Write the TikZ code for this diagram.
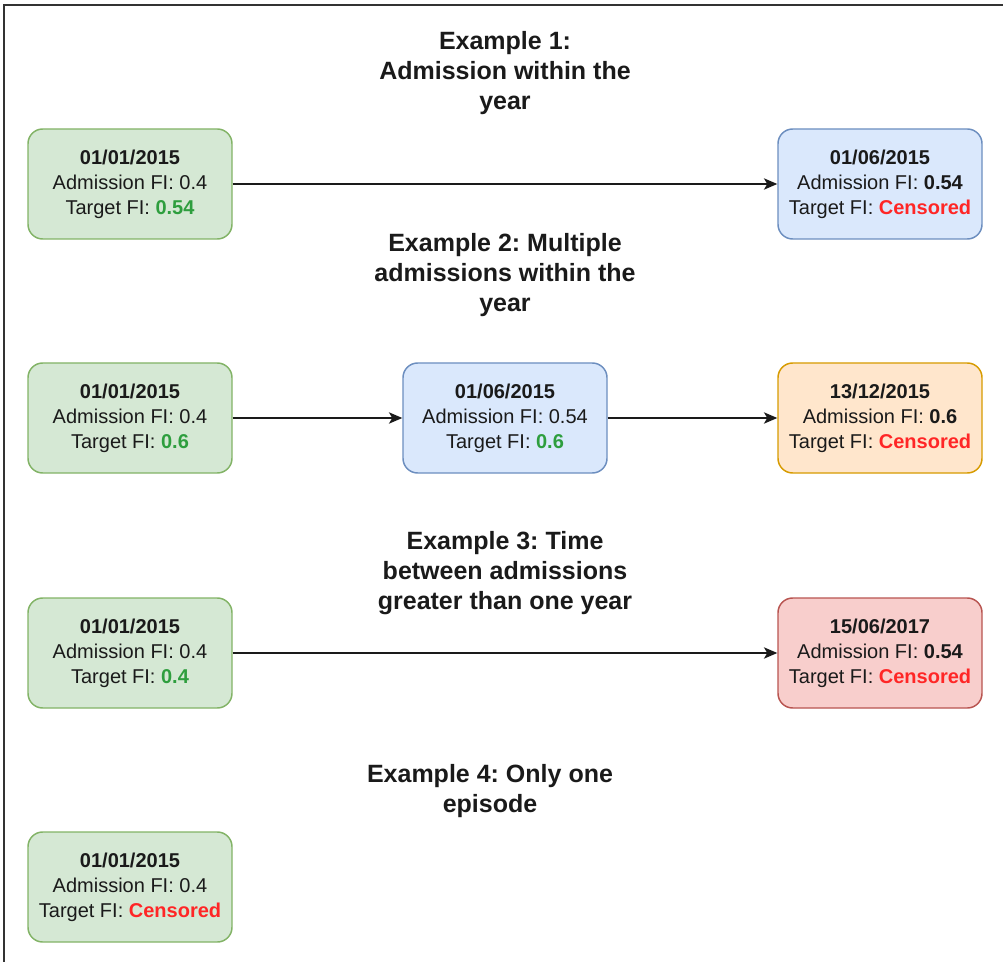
\documentclass[tikz,border=0pt]{standalone}
\usepackage{fontspec}
\setmainfont{Liberation Sans}
\usetikzlibrary{arrows.meta}
\definecolor{ink}{HTML}{1A1A1A}
\definecolor{framegrey}{HTML}{333333}
\definecolor{gfill}{HTML}{D5E8D4}
\definecolor{gline}{HTML}{82B366}
\definecolor{bfill}{HTML}{DAE8FC}
\definecolor{bline}{HTML}{6C8EBF}
\definecolor{ofill}{HTML}{FFE6CC}
\definecolor{oline}{HTML}{D79B00}
\definecolor{rfill}{HTML}{F8CECC}
\definecolor{rline}{HTML}{B85450}
\definecolor{okgreen}{HTML}{2E9E3E}
\definecolor{censred}{HTML}{FF2626}
\newcommand\okval[1]{\textcolor{okgreen}{\textbf{#1}}}
\newcommand\censval{\textcolor{censred}{\textbf{Censored}}}
\frenchspacing

\begin{document}
\begin{tikzpicture}[
    x=0.75pt, y=-0.75pt,
    every node/.style={font=\fontsize{15}{18.75}\selectfont, text=ink},
    episode/.style={draw, rounded corners=11pt, line width=1.1pt,
        minimum width=153pt, minimum height=82.5pt, inner sep=0pt, align=center},
    green/.style={episode, fill=gfill, draw=gline},
    blue/.style={episode, fill=bfill, draw=bline},
    orange/.style={episode, fill=ofill, draw=oline},
    red/.style={episode, fill=rfill, draw=rline},
    title/.style={font=\fontsize{18.75}{22.5}\selectfont\bfseries, align=center},
    link/.style={ink, line width=1.2pt, -{Stealth[length=10pt, width=8.5pt, inset=2.5pt]}},
]
\useasboundingbox (0,0) rectangle (1003,962);
\draw[framegrey, line width=1.5pt] (4,962) -- (4,5) -- (1003,5);

% example 1
\node[title] (t1) at (505,73) {Example 1:\\Admission within the\\year};
\node[green] (e1start) at (130,184) {\textbf{01/01/2015}\\Admission FI: 0.4\\Target FI: \okval{0.54}};
\node[blue] (e1end) at (880,184) {\textbf{01/06/2015}\\Admission FI: \textbf{0.54}\\Target FI: \censval};
\draw[link] (e1start) -- (e1end);

% example 2
\node[title] (t2) at (505,275) {Example 2: Multiple\\admissions within the\\year};
\node[green] (e2start) at (130,418) {\textbf{01/01/2015}\\Admission FI: 0.4\\Target FI: \okval{0.6}};
\node[blue] (e2mid) at (505,418) {\textbf{01/06/2015}\\Admission FI: 0.54\\Target FI: \okval{0.6}};
\node[orange] (e2end) at (880,418) {\textbf{13/12/2015}\\Admission FI: \textbf{0.6}\\Target FI: \censval};
\draw[link] (e2start) -- (e2mid);
\draw[link] (e2mid) -- (e2end);

% example 3
\node[title] (t3) at (505,573) {Example 3: Time\\between admissions\\greater than one year};
\node[green] (e3start) at (130,653) {\textbf{01/01/2015}\\Admission FI: 0.4\\Target FI: \okval{0.4}};
\node[red] (e3end) at (880,653) {\textbf{15/06/2017}\\Admission FI: \textbf{0.54}\\Target FI: \censval};
\draw[link] (e3start) -- (e3end);

% example 4
\node[title] (t4) at (490,791) {Example 4: Only one\\episode};
\node[green] (e4start) at (130,887) {\textbf{01/01/2015}\\Admission FI: 0.4\\Target FI: \censval};
\end{tikzpicture}
\end{document}
